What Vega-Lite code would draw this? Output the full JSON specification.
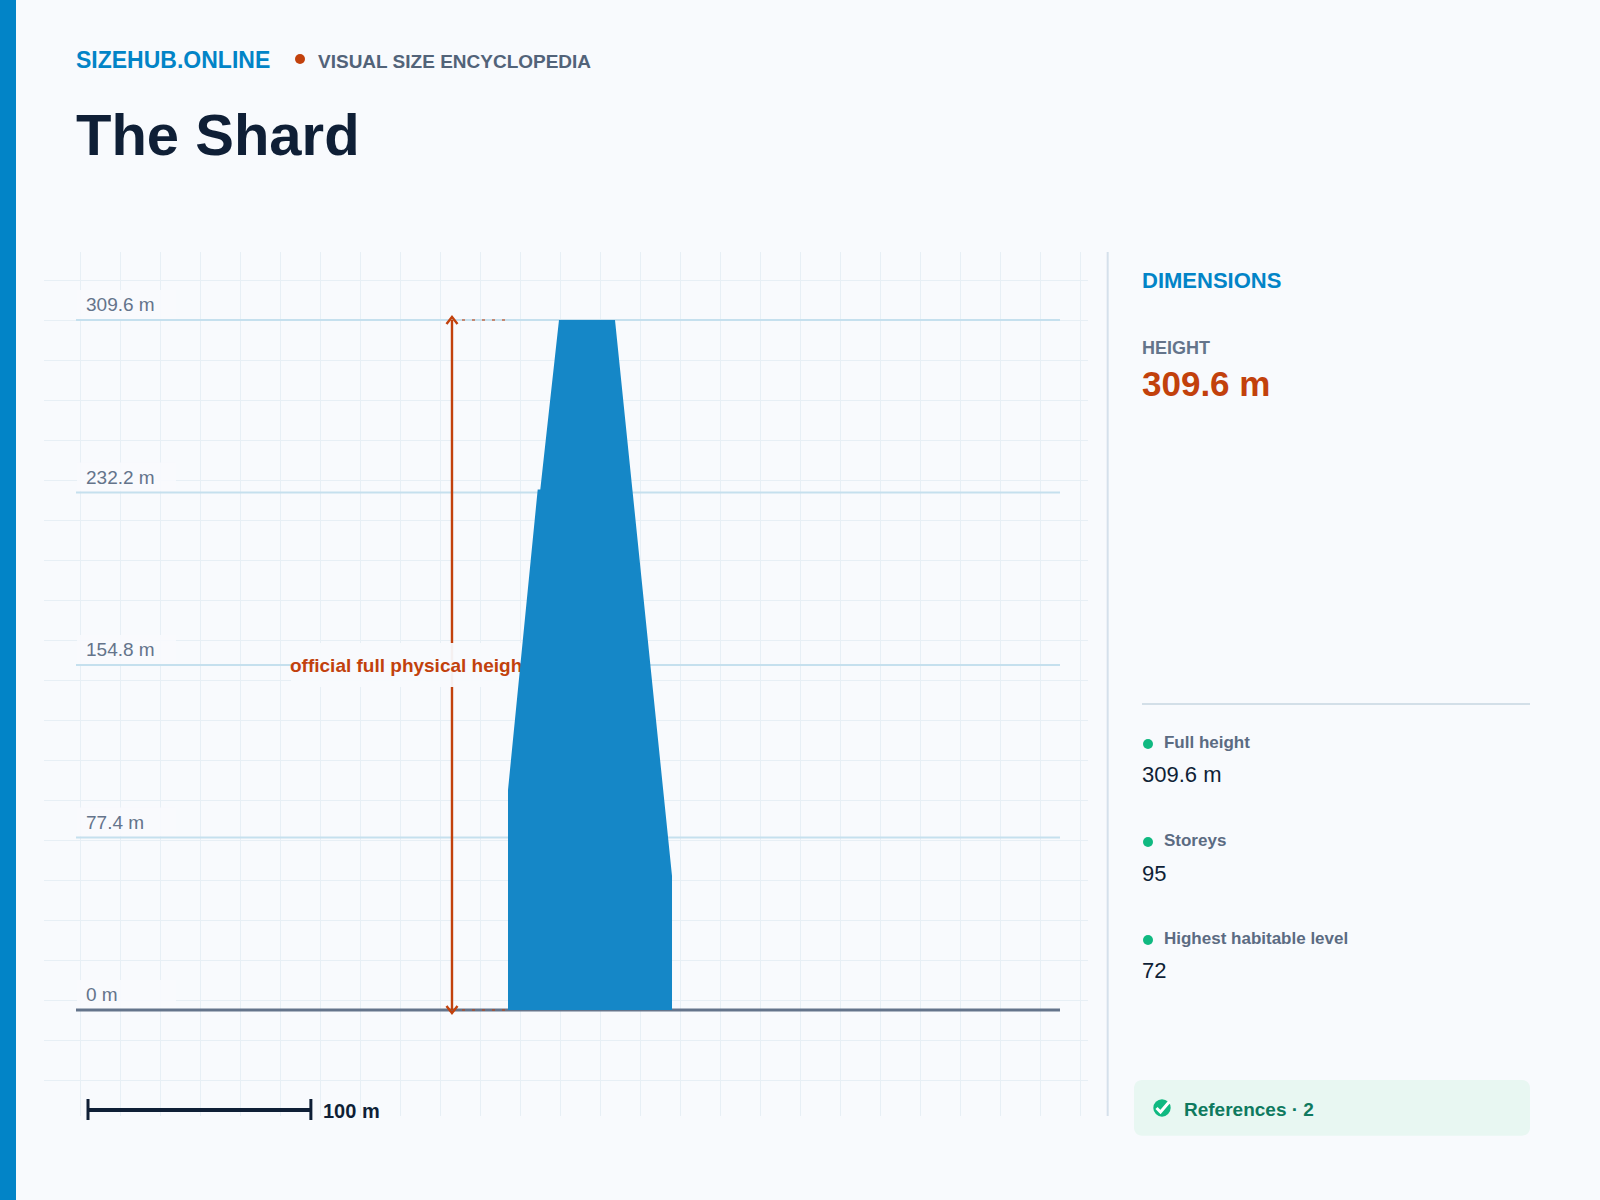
{
  "$schema": "https://vega.github.io/schema/vega-lite/v6.json",
  "autosize": {"type": "fit", "contains": "padding"},
  "width": 1600,
  "height": 1200,
  "padding": 0,
  "background": "#f8fafd",
  "datasets": {
    "levels": [
      {"height": 309.6, "label": "309.6 m"},
      {"height": 232.2, "label": "232.2 m"},
      {"height": 154.8, "label": "154.8 m"},
      {"height": 77.4, "label": "77.4 m"},
      {"height": 0, "label": "0 m"}
    ],
    "outline": [
      {"height": 0, "left": 0, "right": 73.59},
      {"height": 60.13, "left": 0, "right": 73.59},
      {"height": 98.71, "left": 0, "right": 69.63},
      {"height": 233.55, "left": 13.33, "right": 55.81},
      {"height": 233.6, "left": 14.49, "right": 55.8},
      {"height": 309.6, "left": 22.88, "right": 48.01}
    ],
    "gridX": [
      {"m": -191.82}, {"m": -173.87}, {"m": -155.93}, {"m": -137.98}, {"m": -120.03}, {"m": -102.08},
      {"m": -84.13}, {"m": -66.19}, {"m": -48.24}, {"m": -30.29}, {"m": -12.34}, {"m": 5.6},
      {"m": 23.55}, {"m": 41.5}, {"m": 59.45}, {"m": 77.4}, {"m": 95.34}, {"m": 113.29},
      {"m": 131.24}, {"m": 149.19}, {"m": 167.14}, {"m": 185.08}, {"m": 203.03}, {"m": 220.98},
      {"m": 238.93}, {"m": 256.87}
    ],
    "gridY": [
      {"m": 327.33}, {"m": 309.38}, {"m": 291.43}, {"m": 273.48}, {"m": 255.54}, {"m": 237.59},
      {"m": 219.64}, {"m": 201.69}, {"m": 183.74}, {"m": 165.8}, {"m": 147.85}, {"m": 129.9},
      {"m": 111.95}, {"m": 94.01}, {"m": 76.06}, {"m": 58.11}, {"m": 40.16}, {"m": 22.21},
      {"m": 4.27}, {"m": -13.68}, {"m": -31.63}
    ]
  },
  "data": {"name": "levels"},
  "layer": [
    {
      "data": {"values": [{"part": "accent"}]},
      "mark": {"type": "rect", "color": "#0284c7"},
      "encoding": {
        "x": {"datum": -227.94, "scale": {"domain": [-227.94, 489.98], "nice": false, "zero": false}},
        "x2": {"datum": -220.76},
        "y": {"datum": -85.252, "scale": {"domain": [-85.252, 453.18], "nice": false, "zero": false}},
        "y2": {"datum": 453.18}
      }
    },
    {
      "data": {"name": "gridX"},
      "mark": {"type": "rule", "color": "#e7eff5", "strokeWidth": 1},
      "encoding": {"x": {"field": "m", "type": "quantitative"}, "y": {"datum": 340.11}, "y2": {"datum": -47.56}}
    },
    {
      "data": {"name": "gridY"},
      "mark": {"type": "rule", "color": "#e7eff5", "strokeWidth": 1},
      "encoding": {"y": {"field": "m", "type": "quantitative"}, "x": {"datum": -208.19}, "x2": {"datum": 260.24}}
    },
    {
      "mark": {"type": "rect", "color": "#f8fafd", "opacity": 0.92, "yOffset": -30, "y2Offset": -1},
      "encoding": {
        "y": {"field": "height", "type": "quantitative"},
        "y2": {"field": "height"},
        "x": {"datum": -193.39},
        "x2": {"datum": -148.97}
      }
    },
    {
      "transform": [{"filter": "datum.height > 0"}],
      "mark": {"type": "rule", "color": "#c5e0ee", "strokeWidth": 2},
      "encoding": {"y": {"field": "height", "type": "quantitative"}, "x": {"datum": -193.84}, "x2": {"datum": 247.68}}
    },
    {
      "data": {"values": [{"part": "ground"}]},
      "mark": {"type": "rule", "color": "#64748b", "strokeWidth": 3},
      "encoding": {"y": {"datum": 0}, "x": {"datum": -193.84}, "x2": {"datum": 247.68}}
    },
    {
      "mark": {"type": "text", "font": "Liberation Sans", "fontSize": 19, "color": "#64748b", "dy": -8.5},
      "encoding": {
        "y": {"field": "height", "type": "quantitative"},
        "x": {"datum": -189.35},
        "text": {"field": "label", "type": "nominal"}
      }
    },
    {
      "data": {"values": [{"part": "top"}]},
      "mark": {"type": "rule", "color": "#c2410c", "opacity": 0.55, "strokeWidth": 2, "strokeDash": [3, 7]},
      "encoding": {"y": {"datum": 309.6}, "x": {"datum": -20.64}, "x2": {"datum": -1.35}}
    },
    {
      "data": {"values": [{"part": "bottom"}]},
      "mark": {"type": "rule", "color": "#c2410c", "opacity": 0.55, "strokeWidth": 2, "strokeDash": [3, 7]},
      "encoding": {"y": {"datum": 0}, "x": {"datum": -20.64}, "x2": {"datum": 0}}
    },
    {
      "data": {"values": [{"part": "arrow"}]},
      "mark": {"type": "rule", "color": "#c2410c", "strokeWidth": 2.4},
      "encoding": {"x": {"datum": -25.13}, "y": {"datum": 0}, "y2": {"datum": 309.6}}
    },
    {
      "data": {"values": [{"part": "arrow top"}]},
      "mark": {"type": "point", "shape": "M-1,0.73L0,-0.55L1,0.73", "size": 121, "filled": false, "color": "#c2410c", "opacity": 1, "strokeWidth": 2.4},
      "encoding": {"x": {"datum": -25.13}, "y": {"datum": 309.6}}
    },
    {
      "data": {"values": [{"part": "arrow bottom"}]},
      "mark": {"type": "point", "shape": "M-1,-0.73L0,0.55L1,-0.73", "size": 121, "filled": false, "color": "#c2410c", "opacity": 1, "strokeWidth": 2.4},
      "encoding": {"x": {"datum": -25.13}, "y": {"datum": 0}}
    },
    {
      "data": {"values": [{"part": "note background"}]},
      "mark": {"type": "rect", "color": "#f8fafd", "opacity": 0.95},
      "encoding": {"x": {"datum": -97.37}, "x2": {"datum": 14.36}, "y": {"datum": 164.67}, "y2": {"datum": 144.93}}
    },
    {
      "data": {"values": [{"t": "official full physical height"}]},
      "mark": {"type": "text", "font": "Liberation Sans", "fontSize": 19, "fontWeight": "bold", "color": "#c2410c"},
      "encoding": {"x": {"datum": -97.82}, "y": {"datum": 151.53}, "text": {"field": "t", "type": "nominal"}}
    },
    {
      "data": {"name": "outline"},
      "mark": {"type": "area", "orient": "horizontal", "color": "#1587c7", "opacity": 1},
      "encoding": {
        "y": {"field": "height", "type": "quantitative"},
        "x": {"field": "left", "type": "quantitative"},
        "x2": {"field": "right"}
      }
    },
    {
      "data": {"values": [{"part": "scale bar"}]},
      "mark": {"type": "rule", "color": "#0f1f36", "strokeWidth": 4},
      "encoding": {"y": {"datum": -44.87}, "x": {"datum": -188.45}, "x2": {"datum": -88.45}}
    },
    {
      "data": {"values": [{"part": "scale tick left"}]},
      "mark": {"type": "rule", "color": "#0f1f36", "strokeWidth": 3},
      "encoding": {"x": {"datum": -188.45}, "y": {"datum": -39.93}, "y2": {"datum": -49.36}}
    },
    {
      "data": {"values": [{"part": "scale tick right"}]},
      "mark": {"type": "rule", "color": "#0f1f36", "strokeWidth": 3},
      "encoding": {"x": {"datum": -88.45}, "y": {"datum": -39.93}, "y2": {"datum": -49.36}}
    },
    {
      "data": {"values": [{"t": "100 m"}]},
      "mark": {"type": "text", "font": "Liberation Sans", "fontSize": 20, "fontWeight": "bold", "color": "#0f1f36"},
      "encoding": {"x": {"datum": -83.01}, "y": {"datum": -48.32}, "text": {"field": "t", "type": "nominal"}}
    },
    {
      "data": {"values": [{"t": "SIZEHUB.ONLINE"}]},
      "mark": {"type": "text", "font": "Liberation Sans", "fontSize": 23, "fontWeight": "bold", "color": "#0284c7"},
      "encoding": {"x": {"datum": -193.84}, "y": {"datum": 422.81}, "text": {"field": "t", "type": "nominal"}}
    },
    {
      "data": {"values": [{"part": "header dot"}]},
      "mark": {"type": "point", "shape": "circle", "filled": true, "size": 100, "color": "#c2410c", "opacity": 1},
      "encoding": {"x": {"datum": -93.33}, "y": {"datum": 426.71}}
    },
    {
      "data": {"values": [{"t": "VISUAL SIZE ENCYCLOPEDIA"}]},
      "mark": {"type": "text", "font": "Liberation Sans", "fontSize": 19, "fontWeight": "bold", "color": "#526379"},
      "encoding": {"x": {"datum": -85.25}, "y": {"datum": 422.81}, "text": {"field": "t", "type": "nominal"}}
    },
    {
      "data": {"values": [{"t": "The Shard"}]},
      "mark": {"type": "text", "font": "Liberation Sans", "fontSize": 58, "fontWeight": "bold", "color": "#0f1f36"},
      "encoding": {"x": {"datum": -193.84}, "y": {"datum": 383.8}, "text": {"field": "t", "type": "nominal"}}
    },
    {
      "data": {"values": [{"part": "divider"}]},
      "mark": {"type": "rule", "color": "#d5e0eb", "strokeWidth": 2},
      "encoding": {"x": {"datum": 269.08}, "y": {"datum": 340.11}, "y2": {"datum": -47.56}}
    },
    {
      "data": {"values": [{"t": "DIMENSIONS"}]},
      "mark": {"type": "text", "font": "Liberation Sans", "fontSize": 22, "fontWeight": "bold", "color": "#0284c7"},
      "encoding": {"x": {"datum": 284.47}, "y": {"datum": 323.82}, "text": {"field": "t", "type": "nominal"}}
    },
    {
      "data": {"values": [{"t": "HEIGHT"}]},
      "mark": {"type": "text", "font": "Liberation Sans", "fontSize": 18, "fontWeight": "bold", "color": "#64748b"},
      "encoding": {"x": {"datum": 284.47}, "y": {"datum": 294.34}, "text": {"field": "t", "type": "nominal"}}
    },
    {
      "data": {"values": [{"t": "309.6 m"}]},
      "mark": {"type": "text", "font": "Liberation Sans", "fontSize": 35, "fontWeight": "bold", "color": "#c2410c"},
      "encoding": {"x": {"datum": 284.47}, "y": {"datum": 275.5}, "text": {"field": "t", "type": "nominal"}}
    },
    {
      "data": {"values": [{"part": "separator"}]},
      "mark": {"type": "rule", "color": "#d3dfe8", "strokeWidth": 2},
      "encoding": {"y": {"datum": 137.3}, "x": {"datum": 284.47}, "x2": {"datum": 458.57}}
    },
    {
      "data": {"values": [{"part": "dot"}]},
      "mark": {"type": "point", "shape": "circle", "filled": true, "size": 100, "color": "#10b981", "opacity": 1},
      "encoding": {"x": {"datum": 287.17}, "y": {"datum": 119.35}}
    },
    {
      "data": {"values": [{"part": "dot"}]},
      "mark": {"type": "point", "shape": "circle", "filled": true, "size": 100, "color": "#10b981", "opacity": 1},
      "encoding": {"x": {"datum": 287.17}, "y": {"datum": 75.38}}
    },
    {
      "data": {"values": [{"part": "dot"}]},
      "mark": {"type": "point", "shape": "circle", "filled": true, "size": 100, "color": "#10b981", "opacity": 1},
      "encoding": {"x": {"datum": 287.17}, "y": {"datum": 31.41}}
    },
    {
      "data": {"values": [{"t": "Full height"}]},
      "mark": {"type": "text", "style": "itemLabel"},
      "encoding": {"x": {"datum": 294.34}, "y": {"datum": 117.42}, "text": {"field": "t", "type": "nominal"}}
    },
    {
      "data": {"values": [{"t": "Storeys"}]},
      "mark": {"type": "text", "style": "itemLabel"},
      "encoding": {"x": {"datum": 294.34}, "y": {"datum": 73.72}, "text": {"field": "t", "type": "nominal"}}
    },
    {
      "data": {"values": [{"t": "Highest habitable level"}]},
      "mark": {"type": "text", "style": "itemLabel"},
      "encoding": {"x": {"datum": 294.34}, "y": {"datum": 29.62}, "text": {"field": "t", "type": "nominal"}}
    },
    {
      "data": {"values": [{"t": "309.6 m"}]},
      "mark": {"type": "text", "style": "itemValue"},
      "encoding": {"x": {"datum": 284.47}, "y": {"datum": 102.44}, "text": {"field": "t", "type": "nominal"}}
    },
    {
      "data": {"values": [{"t": "95"}]},
      "mark": {"type": "text", "style": "itemValue"},
      "encoding": {"x": {"datum": 284.47}, "y": {"datum": 58.1}, "text": {"field": "t", "type": "nominal"}}
    },
    {
      "data": {"values": [{"t": "72"}]},
      "mark": {"type": "text", "style": "itemValue"},
      "encoding": {"x": {"datum": 284.47}, "y": {"datum": 14.26}, "text": {"field": "t", "type": "nominal"}}
    },
    {
      "data": {"values": [{"part": "references box"}]},
      "mark": {"type": "rect", "color": "#e8f7f2", "cornerRadius": 8},
      "encoding": {"x": {"datum": 280.88}, "x2": {"datum": 458.57}, "y": {"datum": -31.41}, "y2": {"datum": -56.4}}
    },
    {
      "data": {"values": [{"part": "check"}]},
      "mark": {"type": "point", "shape": "circle", "filled": true, "size": 300, "color": "#10b981", "opacity": 1},
      "encoding": {"x": {"datum": 293.45}, "y": {"datum": -43.97}}
    },
    {
      "data": {"values": [{"part": "check tick"}]},
      "mark": {"type": "point", "shape": "M-0.55,0L-0.15,0.4L0.75,-0.65", "size": 400, "filled": false, "color": "#ffffff", "opacity": 1, "strokeWidth": 3},
      "encoding": {"x": {"datum": 293.45}, "y": {"datum": -43.97}}
    },
    {
      "data": {"values": [{"t": "References · 2"}]},
      "mark": {"type": "text", "font": "Liberation Sans", "fontSize": 19, "fontWeight": "bold", "color": "#0f7a5f"},
      "encoding": {"x": {"datum": 303.32}, "y": {"datum": -47.56}, "text": {"field": "t", "type": "nominal"}}
    }
  ],
  "config": {
    "axis": {"disable": true},
    "view": {"stroke": null},
    "text": {"align": "left", "baseline": "alphabetic"},
    "style": {
      "itemLabel": {"font": "Liberation Sans", "fontSize": 17, "fontWeight": "bold", "color": "#5b6b82"},
      "itemValue": {"font": "Liberation Sans", "fontSize": 22, "color": "#0f1f36"}
    }
  }
}
